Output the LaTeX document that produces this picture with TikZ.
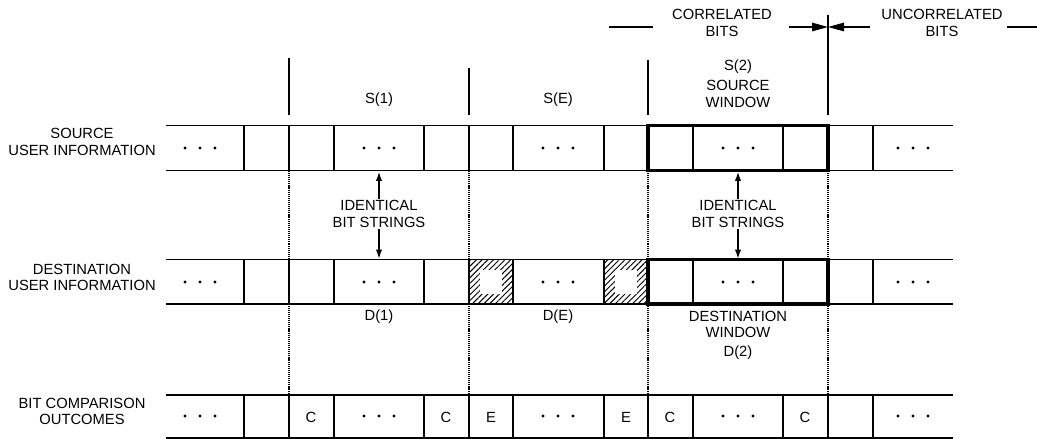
\documentclass[tikz,border=0pt]{standalone}
\usepackage{fontspec}
\setmainfont{Liberation Sans}
\usetikzlibrary{arrows.meta,positioning,calc,patterns.meta}

\begin{document}
\begin{tikzpicture}[
  x=0.02cm, y=-0.02cm,
  every node/.style={font=\fontsize{8.4}{9.2}\selectfont, align=center, inner sep=1pt},
  rowedge/.style={line width=1.1pt},
  celledge/.style={line width=0.6pt},
  windowbox/.style={line width=1.8pt},
  guide/.style={line width=0.6pt, dash pattern=on 0.6pt off 0.5pt},
  marker/.style={line width=0.7pt},
  pointer/.style={-{Latex[length=1.8mm,width=1.3mm]}, line width=0.7pt},
  limit/.style={-{Triangle[length=3.2mm,width=1.7mm]}, line width=0.7pt},
  errbit/.style={pattern={Lines[angle=45,distance=2.3pt,line width=0.55pt]}}
]
\useasboundingbox (0,0) rectangle (1037,439);
\def\cellEdges{244,289,334,424,469,513,604,648,693,783,828,873}

% hatched (erroneous) destination bits
\foreach \xh in {469,604}{
  \fill[errbit] (\xh,259.5) rectangle ++(44,44.5);
  \fill[white] (\xh+11,270) rectangle ++(22,24);
}

% the three bit rows
\foreach \ytop/\ybot in {125.5/170.5, 259.5/304, 395/438}{
  \draw[rowedge] (166,\ytop) -- (953,\ytop) (166,\ybot) -- (953,\ybot);
  \foreach \xe in \cellEdges
    \draw[celledge] (\xe,\ytop) -- (\xe,\ybot);
}
\foreach \yr in {148,282,416}
  \foreach \xc in {200,379,558,738,913}
    \foreach \dx in {-15,0,15}
      \fill (\xc+\dx,\yr) circle (0.9pt);

% windows
\draw[windowbox] (648,125.5) rectangle (828,170.5);
\draw[windowbox] (648,259.5) rectangle (828,304);

% guides and markers
\foreach \xg in {289,469,648,828}
  \draw[guide] (\xg,171) -- (\xg,395);
\draw[marker] (289,58) -- (289,115);
\draw[marker] (469,68) -- (469,115);
\draw[marker] (648,60) -- (648,115);
\draw[marker] (828,15) -- (828,115);

% row labels
\node (srcLabel) at (82,142) {SOURCE\\USER INFORMATION};
\node (dstLabel) at (82,277) {DESTINATION\\USER INFORMATION};
\node (cmpLabel) at (82,411) {BIT COMPARISON\\OUTCOMES};

% segment labels
\node (s1) at (379,100) {S(1)};
\node (sE) at (558,100) {S(E)};
\node (s2) at (738,67) {S(2)};
\node (srcWin) at (738,94) {SOURCE\\WINDOW};
\node (d1) at (379,317) {D(1)};
\node (dE) at (558,317) {D(E)};
\node (dstWin) at (738,324) {DESTINATION\\WINDOW};
\node (d2) at (738,353) {D(2)};

% identical bit strings
\foreach \xi [count=\k] in {379,738}{
  \node (ident\k) at (\xi,214) {IDENTICAL\\BIT STRINGS};
  \coordinate (srcBot\k) at (\xi,172);
  \coordinate (dstTop\k) at (\xi,258.5);
  \draw[pointer] (ident\k.north) -- (srcBot\k);
  \draw[pointer] (ident\k.south) -- (dstTop\k);
}

% correlated / uncorrelated
\node (corr) at (722,23) {CORRELATED\\BITS};
\node (uncorr) at (942,23) {UNCORRELATED\\BITS};
\coordinate (corrDashL) at (609,27);
\coordinate (corrDashR) at (653,27);
\coordinate (corrFrom) at (789,27);
\coordinate (border) at (828,27);
\coordinate (uncorrFrom) at (870,27);
\coordinate (uncorrDashL) at (1007,27);
\coordinate (uncorrDashR) at (1037,27);
\draw[marker] (corrDashL) -- (corrDashR);
\draw[marker] (uncorrDashL) -- (uncorrDashR);
\draw[limit] (corrFrom) -- (border);
\draw[limit] (uncorrFrom) -- (border);

% comparison outcomes
\foreach \xc/\bit [count=\k] in {311/C,446/C,491/E,626/E,670/C,805/C}
  \node (cmp\k) at (\xc,417) {\bit};
\end{tikzpicture}
\end{document}
